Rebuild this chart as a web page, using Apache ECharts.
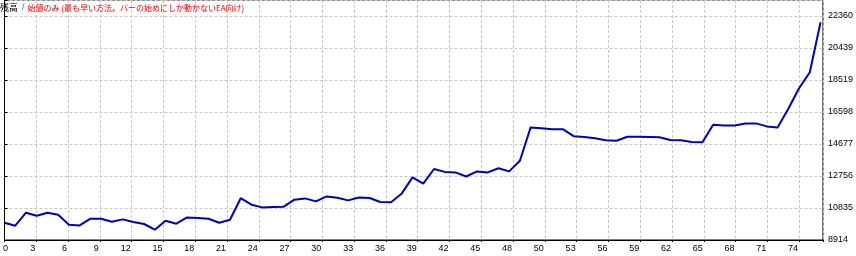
<!DOCTYPE html>
<html>
<head>
<meta charset="utf-8">
<script src="https://cdn.jsdelivr.net/npm/echarts@6/dist/echarts.min.js"></script>
<style>
html,body{margin:0;padding:0;background:#fff;}
#c{width:856px;height:256px;}
</style>
</head>
<body>
<div id="c"></div>
<script>
// balance after each trade (trade index 0..76)
var balance = [
  9952, 9772, 10553, 10373, 10553, 10433, 9832, 9790, 10193, 10193,
  10012, 10151, 9994, 9874, 9532, 10073, 9892, 10271, 10235, 10193,
  9952, 10133, 11423, 11033, 10871, 10895, 10913, 11333, 11411, 11231,
  11531, 11453, 11291, 11465, 11435, 11195, 11183, 11711, 12672, 12294,
  13176, 13002, 12972, 12726, 13032, 12972, 13224, 13032, 13674, 15673,
  15625, 15565, 15565, 15145, 15103, 15025, 14905, 14875, 15115, 15115,
  15103, 15085, 14917, 14905, 14797, 14785, 15835, 15793, 15793, 15913,
  15913, 15733, 15673, 16796, 18026, 18987, 21988
];
var xTickLabels = ['0','3','6','9','12','15','18','21','24','27','30','33','36','39','42','45','48','50','53','56','59','62','65','68','71','74'];
var yTickLabels = ['8914','10835','12756','14677','16598','18519','20439','22360'];
var titleMain = '残高';
var titleSep = '/';
var titleMode = '始値のみ (最も早い方法。バーの始めにしか動かないEA向け)';

var yMin = 8914, yStep = 1920.857, yIntervals = 7.5;
var xStep = 2.9602, xMax = 76.226;

var seriesData = balance.map(function (v, i) { return [i, v]; });

var chart = echarts.init(document.getElementById('c'), null, {renderer: 'canvas'});
var labelFont = {fontFamily: 'Liberation Sans', fontSize: 9, color: '#000'};
chart.setOption({
  animation: false,
  backgroundColor: '#fff',
  grid: {left: -1, right: 33, top: 0, bottom: 16, show: true, borderColor: '#000', borderWidth: 1, backgroundColor: '#fff'},
  xAxis: [{
    type: 'value', min: 0, max: xMax, interval: xStep,
    axisLine: {show: true, lineStyle: {color: '#000', width: 1}},
    axisTick: {show: true, length: 2, lineStyle: {color: '#000'}},
    splitLine: {show: true, lineStyle: {color: '#c8c8c8', type: [3, 2], width: 1}},
    axisLabel: Object.assign({
      margin: 4, showMinLabel: true, showMaxLabel: true,
      formatter: function (v) {
        var k = Math.round(v / xStep);
        if (Math.abs(v - k * xStep) > 0.01 || k >= xTickLabels.length) return '';
        if (k === 0) return '{c|' + xTickLabels[k] + '}';
        return '{r|' + xTickLabels[k] + '}';
      },
      rich: {
        r: {fontFamily: 'Liberation Sans', fontSize: 9, color: '#000', width: 30, align: 'right', padding: [0, 32, 0, 0]},
        c: {fontFamily: 'Liberation Sans', fontSize: 9, color: '#000', padding: [0, 0, 0, 2]}
      }
    }, labelFont)
  }],
  yAxis: [{
    type: 'value', position: 'right', min: 0, max: yIntervals, interval: 1,
    axisLine: {show: true, lineStyle: {color: '#000', width: 1}},
    axisTick: {show: true, length: 3, inside: false, lineStyle: {color: '#000'}},
    splitLine: {show: true, lineStyle: {color: '#c8c8c8', type: [3, 2], width: 1}},
    axisLabel: Object.assign({
      margin: 5, showMinLabel: true, showMaxLabel: true, padding: [2, 0, 0, 0],
      formatter: function (v) {
        var k = Math.round(v);
        if (Math.abs(v - k) > 0.01 || k >= yTickLabels.length) return '';
        return yTickLabels[k];
      }
    }, labelFont)
  }, {
    type: 'value', show: false, min: yMin, max: yMin + yIntervals * yStep
  }],
  series: [{
    type: 'line', xAxisIndex: 0, yAxisIndex: 1,
    data: seriesData, showSymbol: false, symbol: 'none', smooth: false,
    lineStyle: {color: '#0000b4', width: 2},
    z: 5
  }],
  graphic: [{
    type: 'text', left: 0, top: 3, z: 100,
    style: {
      text: '{a|' + titleMain + '}{s|' + titleSep + '}{r|' + titleMode + '}',
      rich: {
        a: {fontFamily: 'Noto Sans CJK JP', fontSize: 9, fill: '#000'},
        s: {fontFamily: 'Liberation Sans', fontSize: 9, fill: '#5b6fc0', padding: [0, 3, 0, 4]},
        r: {fontFamily: 'Noto Sans CJK JP', fontSize: 8, fill: '#ff0000'}
      }
    }
  }]
});
</script>
</body>
</html>
